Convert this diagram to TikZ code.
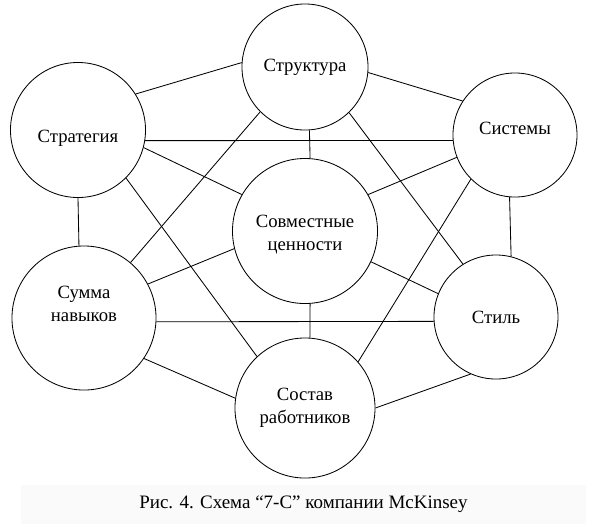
\documentclass[tikz,border=0pt]{standalone}
\usepackage{fontspec}
\setmainfont{Liberation Serif}
\usepackage{tikz}

\begin{document}
\begin{tikzpicture}[x=0.025cm, y=-0.025cm, line width=0.6pt,
        ring/.style={draw, circle, inner sep=0pt, align=center, font=\fontsize{13.3}{16.3}\selectfont},
        tag/.style={align=center, font=\fontsize{13.3}{16.3}\selectfont}]

            \useasboundingbox (0,0) rectangle (605,529);

            \node[ring, minimum size=3.375cm, label={[tag, yshift=-0.2cm]center:Стратегия}] (strat) at (78,130) {};
            \node[ring, minimum size=3.15cm] (struct) at (305,67) {Структура};
            \node[ring, minimum size=3.1cm, label={[tag, yshift=0.175cm]center:Системы}] (sys) at (515,135) {};
            \node[ring, minimum size=3.625cm, label={[tag, yshift=-0.1cm]center:Совместные\\ценности}] (shared) at (305,231) {};
            \node[ring, minimum size=3.6cm, label={[tag, yshift=0.36cm]center:Сумма\\навыков}] (skills) at (84,318) {};
            \node[ring, minimum size=3.1cm] (style) at (496,317) {Стиль};
            \node[ring, minimum size=3.5cm] (staff) at (305,408) {Состав\\работников};

            \node[fill=black!2, minimum width=14.125cm, minimum height=0.975cm, inner sep=0pt,
                  font=\fontsize{13.5}{16}\selectfont] (caption) at (303.5,504) {Рис. 4. Схема “7-С” компании McKinsey};

            % Connections: outer ring
            \draw (strat.32.8) -- (struct.176.4);
            \draw (struct.-5.5) -- (sys.147.3);
            \draw (sys.265.4) -- (style.76.9);
            \draw (style.246.5) -- (staff.0);
            \draw (staff.172.1) -- (skills.-34.9);
            \draw (skills.94.8) -- (strat.-90);

            % Connections: across
            \draw (strat.-9.1) -- (sys.185.5);
            \draw (skills.-3.2) -- (style.184.6);
            \draw (struct.225.6) -- (skills.50.1);
            \draw (struct.-46.9) -- (style.122.7);
            \draw (strat.-45.6) -- (staff.133.1);
            \draw (sys.225) -- (staff.41.5);

            % Connections: to shared values
            \draw (struct.-86.4) -- (shared.86.8);
            \draw (strat.-15.6) -- (shared.150.9);
            \draw (sys.201.2) -- (shared.30.8);
            \draw (skills.28.7) -- (shared.194.2);
            \draw (style.158.5) -- (shared.-25.2);
            \draw (staff.86.7) -- (shared.-86.8);

        \end{tikzpicture}
\end{document}
